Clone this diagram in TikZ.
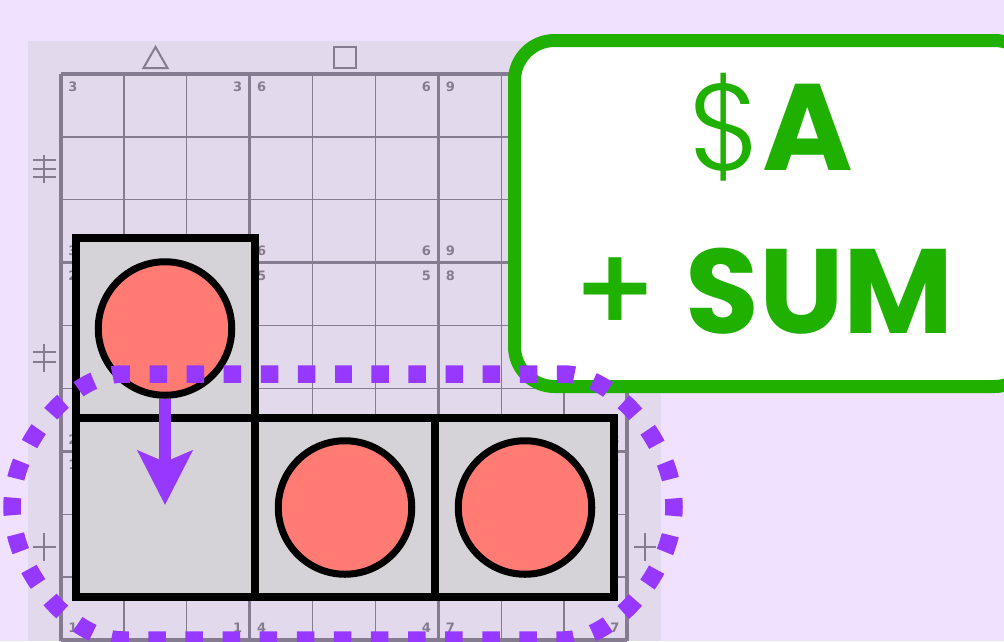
\documentclass[tikz,border=0pt]{standalone}
\usepackage{fontspec}
\usetikzlibrary{arrows.meta}
\newfontfamily\popbold{Poppins Bold}
\newfontfamily\poplight{Poppins Light}
\newfontfamily\popmed{Poppins Medium}
\newfontfamily\digfont{DejaVu Sans Bold}
\definecolor{bgouter}{RGB}{239,225,255}
\definecolor{panelc}{RGB}{226,218,236}
\definecolor{gridc}{RGB}{134,124,146}
\definecolor{cellc}{RGB}{213,211,216}
\definecolor{salmon}{RGB}{255,123,115}
\definecolor{purp}{RGB}{150,56,255}
\definecolor{grn}{RGB}{31,176,0}
\begin{document}
\begin{tikzpicture}[x=1pt,y=-1pt,
  thingrid/.style={draw=gridc,line width=1.3pt},
  thickgrid/.style={draw=gridc,line width=3.5pt},
  markline/.style={draw=gridc,line width=2pt},
  dig/.style={text=gridc,inner sep=0pt,font=\digfont\fontsize{13}{13}\selectfont},
  cellbox/.style={draw=black,fill=cellc,line width=8pt,inner sep=0pt,minimum height=179pt},
  disc/.style={circle,draw=black,fill=salmon,line width=7pt,inner sep=0pt,minimum size=133.5pt},
  moveline/.style={draw=purp,line width=12pt,-{Stealth[length=54pt,width=54pt,inset=11pt]},fill=purp},
  cage/.style={draw=purp,line width=17.5pt,dash pattern=on 17.5pt off 19.6pt,dash phase=8.75pt},
  gbox/.style={draw=grn,fill=white,line width=13pt,rounded corners=40pt,inner sep=0pt},
  bigtxt/.style={text=grn,anchor=base,inner sep=0pt}
]
\useasboundingbox (0,0) rectangle (1004,641);
\clip (0,0) rectangle (1004,641);
\fill[bgouter] (0,0) rectangle (1004,641);
\fill[panelc] (28,41) rectangle (661,641);
% grid
\foreach \i in {1,2,4,5,7,8} {
  \draw[thingrid] ({61+62.89*\i},74) -- ({61+62.89*\i},641);
  \draw[thingrid] (61,{74+62.89*\i}) -- (627,{74+62.89*\i});
}
\foreach \i in {0,3,6,9} {
  \draw[thickgrid] ({61+62.89*\i},74) -- ({61+62.89*\i},641);
  \draw[thickgrid] (61,{74+62.89*\i}) -- (627,{74+62.89*\i});
}
% corner digits
\foreach \c/\r/\n in {0/0/3,1/0/6,2/0/9,0/1/2,1/1/5,2/1/8,0/2/1,1/2/4,2/2/7} {
  \node[dig] (dtl\c\r) at ({61+188.67*\c+12},{74+188.67*\r+13}) {\n};
  \node[dig] (dbl\c\r) at ({61+188.67*\c+12},{74+188.67*(\r+1)-12}) {\n};
}
\foreach \c/\r/\n in {0/0/3,1/0/6,0/1/2,1/1/5,0/2/1,1/2/4,2/2/7} {
  \node[dig] (dtr\c\r) at ({61+188.67*(\c+1)-12},{74+188.67*\r+13}) {\n};
}
\foreach \c/\r/\n in {0/0/3,1/0/6,0/1/2,1/1/5,2/1/8,0/2/1,1/2/4,2/2/7} {
  \node[dig] (dbr\c\r) at ({61+188.67*(\c+1)-12},{74+188.67*(\r+1)-12}) {\n};
}
% top marks
\draw[markline] (155.5,47) -- (143.5,68) -- (167.5,68) -- cycle;
\draw[markline] (333.5,47) rectangle (355.5,68);
% side marks
\draw[markline] (44,155) -- (44,183);
\foreach \y in {160,168.5,177} \draw[markline] (33,\y) -- (56,\y);
\draw[markline] (44,344) -- (44,372);
\foreach \y in {352,362} \draw[markline] (33,\y) -- (56,\y);
\draw[markline] (44,533) -- (44,561);
\draw[markline] (33,547) -- (56,547);
\draw[markline] (645,533) -- (645,561);
\draw[markline] (634,547) -- (656,547);
% cells
\node[cellbox,minimum width=179pt,minimum height=180pt] (ca) at (165,328) {};
\node[cellbox,minimum width=179pt] (cb1) at (165,507.5) {};
\node[cellbox,minimum width=180pt] (cb2) at (344.5,507.5) {};
\node[cellbox,minimum width=179.5pt] (cb3) at (524.25,507.5) {};
% discs
\node[disc] (c1) at (165,328.5) {};
\node[disc] (c2) at (345,507.5) {};
\node[disc] (c3) at (525,507.5) {};
% arrow
\coordinate (tip) at (165,505);
\draw[moveline] (c1.south) -- (tip);
% green box
\node[gbox,minimum width=520pt,minimum height=346pt] (gb) at (774.5,213.5) {};
\node[bigtxt] (l1) at (771,170) {\fontsize{123}{123}\selectfont{\poplight\$}{\popbold A}};
\node[bigtxt] (l2a) at (615.5,333) {\fontsize{123}{123}\selectfont\popmed +};
\node[bigtxt] (l2b) at (819.5,333) {\fontsize{120}{120}\selectfont\popbold SUM};
% dotted cage
\draw[cage] (343,374) -- (563,374)
  .. controls (615.2,374) and (674,444.5) .. (674,507)
  .. controls (674,569.5) and (615.2,640) .. (563,640)
  -- (123,640)
  .. controls (70.8,640) and (12,569.5) .. (12,507)
  .. controls (12,444.5) and (70.8,374) .. (123,374) -- cycle;
\end{tikzpicture}
\end{document}
